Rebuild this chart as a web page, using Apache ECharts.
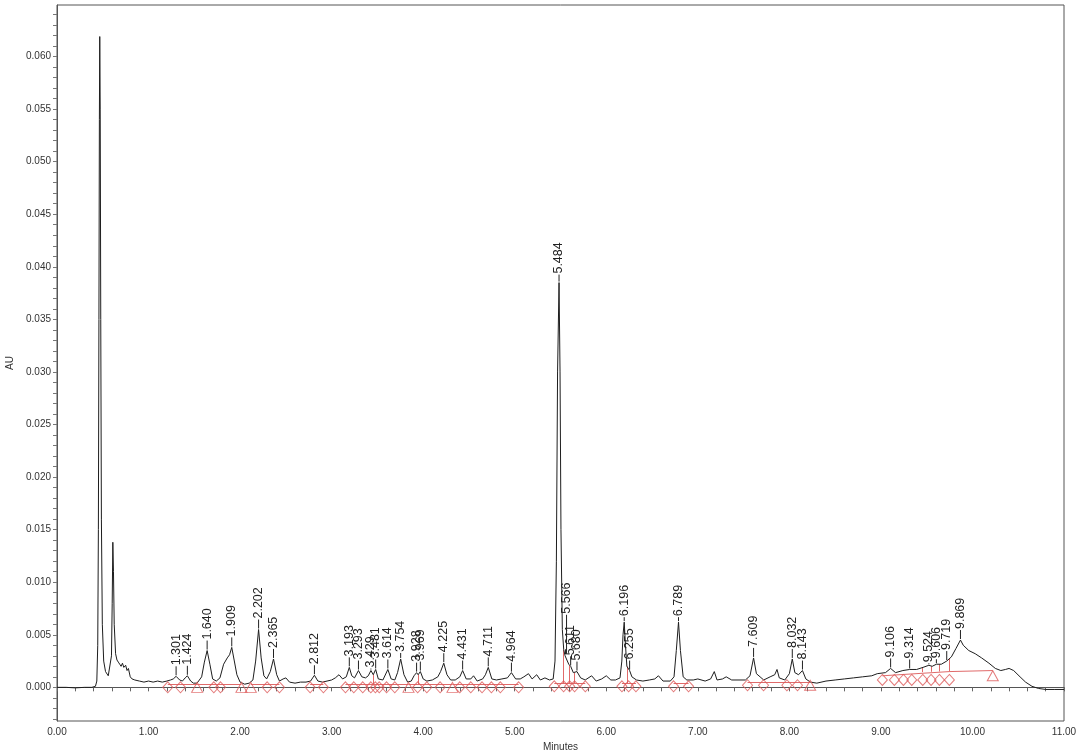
<!DOCTYPE html>
<html><head><meta charset="utf-8">
<script src="https://cdn.jsdelivr.net/npm/echarts@6/dist/echarts.min.js"></script>
<style>html,body{margin:0;padding:0;background:#fff}#c{width:1080px;height:753px}</style>
</head><body><div id="c"></div>
<script>
// ---- DATA ----
const traceT = [0.00,0.10,0.20,0.30,0.38,0.42,0.435,0.445,0.452,0.458,0.463,0.467,0.472,0.478,0.485,0.495,0.51,0.53,0.56,0.58,0.595,0.603,0.61,0.617,0.625,0.64,0.655,0.67,0.685,0.70,0.715,0.73,0.75,0.765,0.78,0.80,0.82,0.85,0.90,0.95,1.00,1.05,1.10,1.15,1.20,1.24,1.27,1.301,1.34,1.37,1.40,1.424,1.46,1.49,1.53,1.58,1.61,1.64,1.67,1.70,1.74,1.78,1.82,1.86,1.885,1.909,1.935,1.965,2.00,2.05,2.10,2.14,2.17,2.202,2.23,2.26,2.29,2.33,2.365,2.40,2.43,2.47,2.50,2.54,2.60,2.66,2.72,2.77,2.812,2.85,2.90,2.95,3.00,3.04,3.08,3.12,3.16,3.193,3.22,3.25,3.293,3.33,3.37,3.40,3.429,3.455,3.481,3.51,3.56,3.614,3.65,3.69,3.72,3.754,3.79,3.83,3.87,3.90,3.928,3.945,3.969,4.00,4.04,4.10,4.16,4.19,4.225,4.26,4.30,4.35,4.40,4.431,4.47,4.52,4.55,4.59,4.65,4.68,4.711,4.75,4.80,4.86,4.92,4.964,5.01,5.06,5.10,5.15,5.19,5.24,5.28,5.33,5.38,5.42,5.44,5.455,5.468,5.484,5.495,5.505,5.52,5.535,5.55,5.566,5.59,5.611,5.64,5.68,5.72,5.77,5.84,5.89,5.95,6.00,6.05,6.10,6.15,6.17,6.183,6.196,6.21,6.225,6.255,6.28,6.33,6.40,6.47,6.53,6.57,6.62,6.70,6.74,6.765,6.789,6.81,6.84,6.88,6.95,7.00,7.08,7.14,7.18,7.21,7.27,7.31,7.37,7.45,7.52,7.57,7.609,7.64,7.68,7.72,7.79,7.84,7.865,7.89,7.95,8.00,8.032,8.06,8.10,8.143,8.18,8.23,8.30,8.40,8.50,8.60,8.70,8.80,8.90,8.96,9.05,9.106,9.16,9.24,9.314,9.39,9.46,9.524,9.56,9.606,9.66,9.719,9.77,9.82,9.869,9.90,9.96,10.03,10.10,10.18,10.25,10.31,10.36,10.40,10.45,10.52,10.58,10.65,10.72,10.80,10.90,11.00];
const traceAU = [0.0000,0.0000,-0.00005,0.0000,0.0000,0.0001,0.0006,0.004,0.015,0.035,0.054,0.0619,0.055,0.035,0.016,0.006,0.0025,0.0015,0.0011,0.0012,0.003,0.008,0.0138,0.011,0.006,0.0032,0.0026,0.0024,0.0022,0.0020,0.0023,0.0019,0.0021,0.0016,0.0018,0.0010,0.0008,0.0007,0.0006,0.0005,0.0006,0.0005,0.0006,0.0005,0.0006,0.0007,0.0008,0.00105,0.0007,0.0006,0.0009,0.0011,0.0006,0.0004,0.0004,0.0010,0.0024,0.0035,0.0022,0.0008,0.0006,0.0009,0.0022,0.0028,0.0031,0.0038,0.0026,0.0012,0.0005,0.0003,0.0004,0.0007,0.0025,0.0055,0.0028,0.0011,0.0008,0.0015,0.0027,0.0012,0.0006,0.0008,0.0009,0.0005,0.0004,0.0005,0.0005,0.0006,0.00115,0.0006,0.0005,0.0006,0.0007,0.0009,0.0012,0.0008,0.0010,0.0019,0.0011,0.0009,0.0016,0.0010,0.0009,0.0011,0.0016,0.0012,0.0017,0.0008,0.0007,0.0017,0.0008,0.0007,0.0014,0.0027,0.0012,0.0005,0.0006,0.0011,0.0014,0.0012,0.0015,0.0008,0.0006,0.0007,0.0010,0.0015,0.0023,0.0012,0.0007,0.0007,0.0010,0.0016,0.0008,0.0008,0.0011,0.0006,0.0008,0.0012,0.0019,0.0008,0.0007,0.0008,0.0009,0.0014,0.0008,0.0008,0.0010,0.0013,0.0008,0.0012,0.0007,0.0009,0.0007,0.0008,0.0025,0.012,0.030,0.0385,0.030,0.015,0.0055,0.0036,0.0030,0.0031,0.0022,0.0020,0.0014,0.0015,0.0009,0.0007,0.0011,0.0006,0.0008,0.0011,0.0007,0.0007,0.0009,0.0025,0.0050,0.0062,0.0040,0.0020,0.0016,0.0010,0.0007,0.0006,0.0007,0.0008,0.0011,0.0006,0.0006,0.0010,0.0035,0.0062,0.0035,0.0010,0.0007,0.0007,0.0008,0.0006,0.0008,0.0015,0.0007,0.0008,0.0010,0.0007,0.0007,0.0007,0.0011,0.0028,0.0013,0.0010,0.0007,0.0010,0.0012,0.0017,0.0009,0.0007,0.0013,0.0027,0.0014,0.0012,0.0016,0.0008,0.0005,0.0004,0.0006,0.0007,0.0008,0.0009,0.0010,0.0011,0.0013,0.0014,0.0018,0.0014,0.0016,0.0017,0.0017,0.0019,0.0021,0.0020,0.0022,0.0022,0.0025,0.0029,0.0037,0.0045,0.0040,0.0035,0.0032,0.0028,0.0023,0.0018,0.0016,0.0017,0.0018,0.0016,0.0010,0.0005,0.0001,-0.0001,-0.0002,-0.0002,-0.0002];

const peakLabels = ['1.301','1.424','1.640','1.909','2.202','2.365','2.812','3.193','3.293','3.429','3.481','3.614','3.754','3.928','3.969','4.225','4.431','4.711','4.964','5.484','5.566','5.611','5.680','6.196','6.255','6.789','7.609','8.032','8.143','9.106','9.314','9.524','9.606','9.719','9.869'];

const diamondT  = [1.210,1.349,1.713,1.786,2.296,2.430,2.765,2.910,3.151,3.242,3.340,3.428,3.478,3.520,3.600,3.690,3.940,4.040,4.185,4.400,4.520,4.643,4.745,4.843,5.043,5.432,5.534,5.600,5.654,5.771,6.171,6.244,6.324,6.735,6.899,7.543,7.718,7.973,8.089,9.016,9.147,9.246,9.337,9.457,9.548,9.639,9.748];
const diamondAU = [0,0,0,0,0,0,0,0,0,0,0,0,0,0,0,0,0,0,0,0,0,0,0,0,0,0.0001,0.0001,0.0001,0.0001,0.0001,0.0001,0.0001,0.0001,0.0001,0.0001,0.0002,0.0002,0.0002,0.0002,0.0007,0.0007,0.0007,0.0007,0.0007,0.0007,0.0007,0.0007];
const triangleT  = [1.531,2.015,2.117,3.840,4.320,8.227,10.222];
const triangleAU = [0,0,0,0,0,0.0002,0.0011];

// baseline segments: [t0, au0, t1, au1]
const baselineSegs = [
  [1.210,0.0003,1.531,0.0003],[1.531,0.0003,2.015,0.0003],[2.117,0.0003,2.430,0.0003],
  [2.765,0.0003,2.910,0.0003],[3.151,0.0003,3.840,0.0003],[3.840,0.0003,4.320,0.0003],
  [4.320,0.0003,5.043,0.0003],[5.432,0.0004,5.771,0.0004],[6.171,0.0004,6.324,0.0004],
  [6.735,0.0004,6.899,0.0004],[7.543,0.0005,8.227,0.0005],
  [9.016,0.0011,9.748,0.0015],[9.748,0.0015,10.222,0.0016]
];
// drop lines: [t, bottomAU, topAU]
const dropLines = [[3.455,0.0003,0.0012],[3.945,0.0003,0.0012],[5.534,0.0004,0.0036],[5.600,0.0004,0.0021],[5.654,0.0004,0.0014],[6.225,0.0004,0.0020],[9.457,0.00145,0.0019],[9.548,0.00148,0.0020],[9.639,0.00151,0.0022],[9.748,0.0015,0.0027]];

const yMajorTicks = [0,0.005,0.010,0.015,0.020,0.025,0.030,0.035,0.040,0.045,0.050,0.055,0.060];
const Y_MIN = -0.0032, Y_MAX = 0.0649, X_MIN = 0, X_MAX = 11;

// ---- STYLE / LAYOUT ----
const FONT = "'Liberation Sans', Arial, sans-serif";
const RED = '#dd5a5a';
const labelExtraLift = {'5.566': 30, '3.429': -8, '9.524': -8, '9.606': -5, '6.196': -5, '6.789': -5, '3.754': -4, '5.484': -2};
const yMinorTicks = [];
for (let k = -3; k <= 64; k++) yMinorTicks.push(k / 1000);

const traceData = traceT.map((t, i) => [t, traceAU[i]]);
const peakData = peakLabels.map(lbl => {
  const t = parseFloat(lbl);
  let best = 0;
  for (let i = 1; i < traceT.length; i++) if (Math.abs(traceT[i] - t) < Math.abs(traceT[best] - t)) best = i;
  return [t, traceAU[best], labelExtraLift[lbl] || 0];
});

const chart = echarts.init(document.getElementById('c'), null, {renderer: 'canvas'});
chart.setOption({
  animation: false,
  backgroundColor: '#fff',
  grid: {left: 57, right: 16, top: 5, bottom: 32, containLabel: false, outerBoundsMode: 'none',
         show: true, borderColor: '#555', borderWidth: 1, backgroundColor: 'transparent'},
  xAxis: {
    type: 'value', min: X_MIN, max: X_MAX, interval: 1,
    name: 'Minutes', nameLocation: 'middle', nameGap: 20,
    nameTextStyle: {fontFamily: FONT, fontSize: 10, color: '#333'},
    axisLine: {show: true, lineStyle: {color: '#555', width: 1}},
    axisTick: {show: true, length: 4, lineStyle: {color: '#666'}},
    minorTick: {show: true, splitNumber: 5, length: 4, lineStyle: {color: '#666'}},
    axisLabel: {fontFamily: FONT, fontSize: 10, color: '#333', margin: 6, formatter: v => v.toFixed(2)},
    splitLine: {show: false}
  },
  yAxis: {
    type: 'value', min: Y_MIN, max: Y_MAX,
    name: 'AU', nameLocation: 'middle', nameGap: 38, nameRotate: 90,
    nameTextStyle: {fontFamily: FONT, fontSize: 10, color: '#333'},
    axisLine: {show: true, lineStyle: {color: '#555', width: 1}},
    axisTick: {show: true, length: 4, customValues: yMinorTicks, lineStyle: {color: '#777'}},
    axisLabel: {fontFamily: FONT, fontSize: 10, color: '#333', margin: 6, customValues: yMajorTicks, formatter: v => v.toFixed(3)},
    splitLine: {show: false}
  },
  series: [
    {
      type: 'lines', coordinateSystem: 'cartesian2d', silent: true, z: 2,
      lineStyle: {color: RED, width: 1, opacity: 0.9},
      data: baselineSegs.map(s => ({coords: [[s[0], s[1]], [s[2], s[3]]]}))
        .concat(dropLines.map(d => ({coords: [[d[0], d[1]], [d[0], d[2]]]})))
    },
    {
      type: 'line', data: traceData, showSymbol: false, smooth: false, z: 3,
      lineStyle: {color: '#1e1e1e', width: 1}, silent: true
    },
    {
      type: 'scatter', data: diamondT.map((t, i) => [t, diamondAU[i]]), symbol: 'diamond', symbolSize: [10, 11], z: 4,
      itemStyle: {color: 'rgba(255,255,255,0)', borderColor: RED, borderWidth: 1}, silent: true
    },
    {
      type: 'scatter', data: triangleT.map((t, i) => [t, triangleAU[i]]), symbol: 'triangle', symbolSize: [11, 10], z: 4,
      itemStyle: {color: 'rgba(255,255,255,0)', borderColor: RED, borderWidth: 1}, silent: true
    },
    {
      type: 'custom', data: peakData, z: 5, silent: true, clip: false,
      renderItem: function (params, api) {
        const p = api.coord([api.value(0), api.value(1)]);
        const lift = api.value(2);
        const yTop = p[1] - 10 - lift;
        const lbl = peakLabels[params.dataIndex];
        return {
          type: 'group',
          children: [
            {type: 'line', shape: {x1: p[0], y1: p[1] - 1, x2: p[0], y2: yTop}, style: {stroke: '#222', lineWidth: 1}},
            {type: 'text', x: p[0], y: yTop - 1, rotation: Math.PI / 2,
             style: {text: lbl, font: '12.5px ' + FONT, fill: '#222', align: 'left', verticalAlign: 'middle'}}
          ]
        };
      }
    }
  ]
});
</script></body></html>
